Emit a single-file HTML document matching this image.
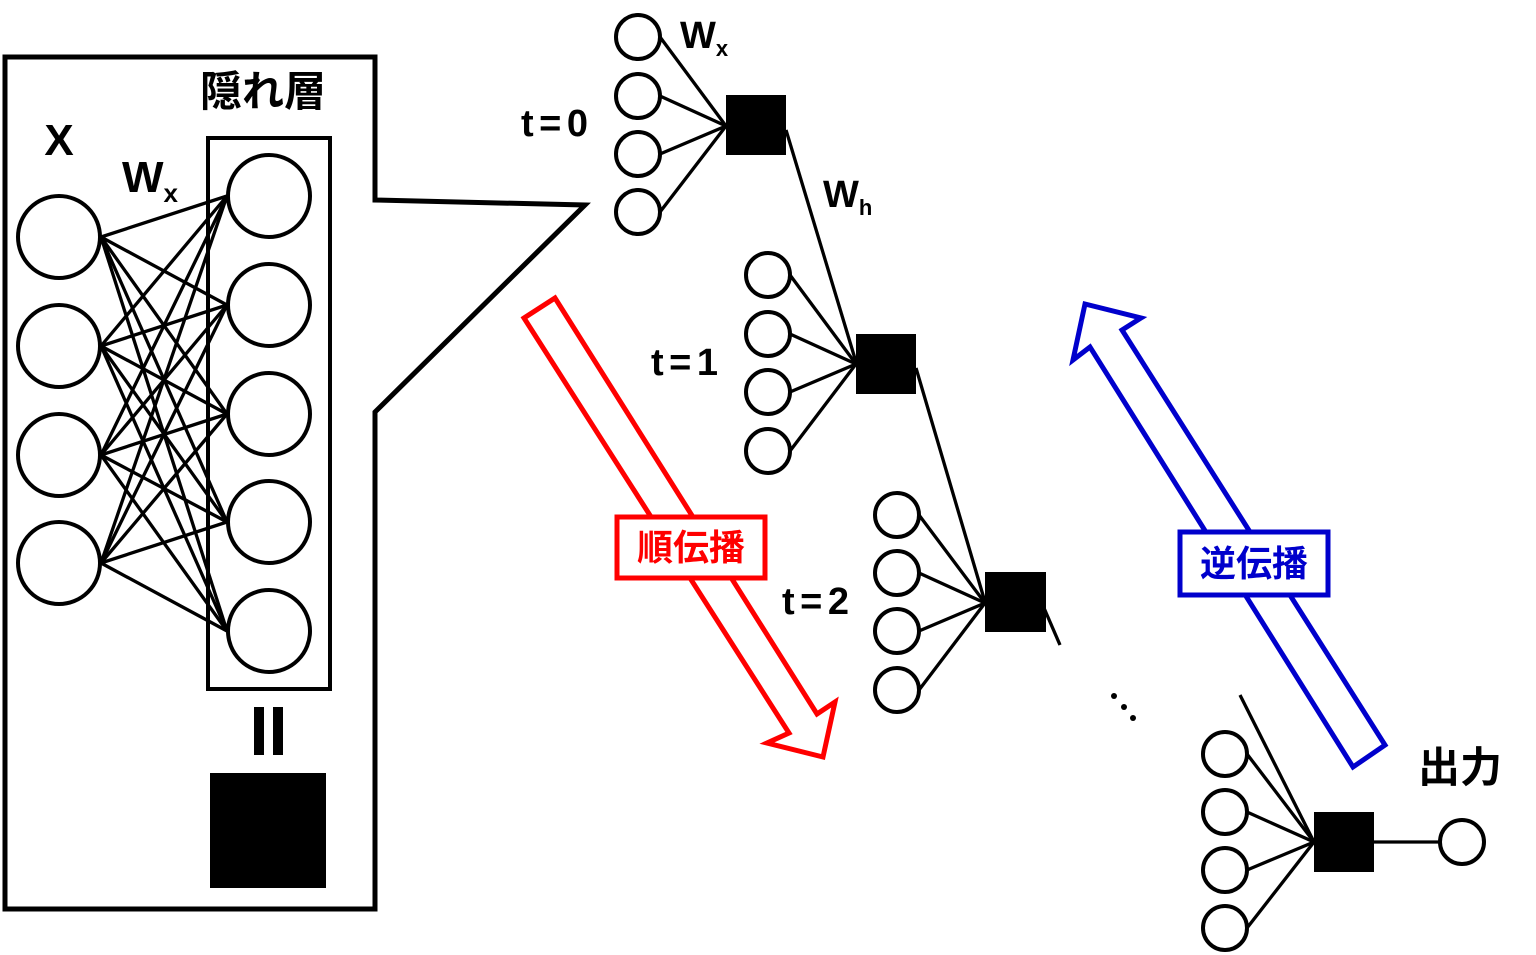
<!DOCTYPE html>
<html><head><meta charset="utf-8"><style>
html,body{margin:0;padding:0;background:#fff;}
svg{display:block;}
text{font-family:"Liberation Sans","Noto Sans CJK JP",sans-serif;}
</style></head><body>
<svg width="1536" height="955" viewBox="0 0 1536 955" xmlns="http://www.w3.org/2000/svg">
<rect width="1536" height="955" fill="#fff"/>
<polygon points="5,57 375,57 375,200 585,205 375,412 375,909 5,909" fill="none" stroke="#000" stroke-width="5"/>
<g stroke="#000" stroke-width="3.3">
<line x1="101" y1="237" x2="227" y2="196"/><line x1="101" y1="237" x2="227" y2="305"/><line x1="101" y1="237" x2="227" y2="414"/><line x1="101" y1="237" x2="227" y2="522"/><line x1="101" y1="237" x2="227" y2="631"/>
<line x1="101" y1="346" x2="227" y2="196"/><line x1="101" y1="346" x2="227" y2="305"/><line x1="101" y1="346" x2="227" y2="414"/><line x1="101" y1="346" x2="227" y2="522"/><line x1="101" y1="346" x2="227" y2="631"/>
<line x1="101" y1="455" x2="227" y2="196"/><line x1="101" y1="455" x2="227" y2="305"/><line x1="101" y1="455" x2="227" y2="414"/><line x1="101" y1="455" x2="227" y2="522"/><line x1="101" y1="455" x2="227" y2="631"/>
<line x1="101" y1="563" x2="227" y2="196"/><line x1="101" y1="563" x2="227" y2="305"/><line x1="101" y1="563" x2="227" y2="414"/><line x1="101" y1="563" x2="227" y2="522"/><line x1="101" y1="563" x2="227" y2="631"/>
</g>
<rect x="208" y="138" width="122" height="551" fill="none" stroke="#000" stroke-width="4"/>
<g fill="#fff" stroke="#000" stroke-width="4">
<circle cx="59" cy="237" r="41"/><circle cx="59" cy="346" r="41"/><circle cx="59" cy="455" r="41"/><circle cx="59" cy="563" r="41"/>
<circle cx="269" cy="196" r="41"/><circle cx="269" cy="305" r="41"/><circle cx="269" cy="414" r="41"/><circle cx="269" cy="522" r="41"/><circle cx="269" cy="631" r="41"/>
</g>
<rect x="254" y="707" width="10" height="48" fill="#000"/><rect x="273" y="707" width="10" height="48" fill="#000"/>
<rect x="210" y="773" width="116" height="115" fill="#000"/>
<text x="59" y="155" font-size="44" font-weight="bold" text-anchor="middle">X</text>
<text x="122" y="192" font-size="44" font-weight="bold">W<tspan font-size="26" dy="10">x</tspan></text>
<text x="200" y="106" font-size="42" font-weight="bold">隠れ層</text>
<g stroke="#000" stroke-width="3.3">
<line x1="660" y1="37" x2="726" y2="126"/><line x1="660" y1="96" x2="726" y2="126"/><line x1="660" y1="154" x2="726" y2="126"/><line x1="660" y1="212" x2="726" y2="126"/>
<line x1="786" y1="130" x2="856" y2="362"/>
<line x1="790" y1="275" x2="856" y2="364"/><line x1="790" y1="334" x2="856" y2="364"/><line x1="790" y1="392" x2="856" y2="364"/><line x1="790" y1="451" x2="856" y2="364"/>
<line x1="916" y1="368" x2="985" y2="602"/>
<line x1="919" y1="515" x2="985" y2="603"/><line x1="919" y1="573" x2="985" y2="603"/><line x1="919" y1="631" x2="985" y2="603"/><line x1="919" y1="690" x2="985" y2="603"/>
<line x1="1044" y1="608" x2="1060" y2="645"/>
<line x1="1240" y1="695" x2="1314" y2="842"/>
<line x1="1247" y1="754" x2="1314" y2="842"/><line x1="1247" y1="812" x2="1314" y2="842"/><line x1="1247" y1="870" x2="1314" y2="842"/><line x1="1247" y1="928" x2="1314" y2="842"/>
<line x1="1374" y1="842" x2="1440" y2="842"/>
</g>
<rect x="726" y="95" width="60" height="60" fill="#000"/>
<rect x="856" y="334" width="60" height="60" fill="#000"/>
<rect x="985" y="572" width="61" height="60" fill="#000"/>
<rect x="1314" y="812" width="60" height="60" fill="#000"/>
<g fill="#fff" stroke="#000" stroke-width="4">
<circle cx="638" cy="37" r="22"/><circle cx="638" cy="96" r="22"/><circle cx="638" cy="154" r="22"/><circle cx="638" cy="212" r="22"/>
<circle cx="768" cy="275" r="22"/><circle cx="768" cy="334" r="22"/><circle cx="768" cy="392" r="22"/><circle cx="768" cy="451" r="22"/>
<circle cx="897" cy="515" r="22"/><circle cx="897" cy="573" r="22"/><circle cx="897" cy="631" r="22"/><circle cx="897" cy="690" r="22"/>
<circle cx="1225" cy="754" r="22"/><circle cx="1225" cy="812" r="22"/><circle cx="1225" cy="870" r="22"/><circle cx="1225" cy="928" r="22"/>
<circle cx="1462" cy="842" r="22"/>
</g>
<g fill="#000"><circle cx="1114" cy="696" r="3"/><circle cx="1124" cy="707" r="3"/><circle cx="1133" cy="718" r="3"/></g>
<text x="680" y="48" font-size="38" font-weight="bold">W<tspan font-size="22" dy="8">x</tspan></text>
<text x="823" y="207" font-size="38" font-weight="bold">W<tspan font-size="22" dy="8">h</tspan></text>
<text x="521" y="136" font-size="38" font-weight="bold" textLength="67">t=0</text>
<text x="651" y="375" font-size="38" font-weight="bold" textLength="67">t=1</text>
<text x="782" y="614" font-size="38" font-weight="bold" textLength="67">t=2</text>
<text x="1418" y="782" font-size="42" font-weight="bold">出力</text>
<polygon points="524,318 555,298 817,714 835,702 823,757 767,743 789,733" fill="#fff" stroke="#f00" stroke-width="5"/>
<rect x="617" y="517" width="148" height="61" fill="#fff" stroke="#f00" stroke-width="5"/>
<text x="691" y="560" font-size="36" font-weight="bold" fill="#f00" text-anchor="middle">順伝播</text>
<polygon points="1085,304 1141,318 1122,330 1385,745 1353,767 1090,347 1073,360" fill="#fff" stroke="#00c" stroke-width="5"/>
<rect x="1180" y="532" width="148" height="63" fill="#fff" stroke="#00c" stroke-width="5"/>
<text x="1254" y="576" font-size="36" font-weight="bold" fill="#00c" text-anchor="middle">逆伝播</text>
</svg>
</body></html>
